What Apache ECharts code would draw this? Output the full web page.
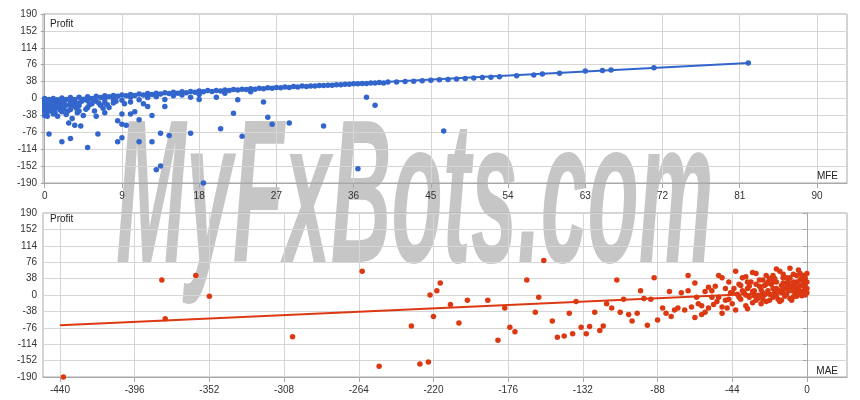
<!DOCTYPE html>
<html><head><meta charset="utf-8">
<script src="https://cdn.jsdelivr.net/npm/echarts@6/dist/echarts.min.js"></script>
<style>html,body{margin:0;padding:0;background:#fff}#c{width:860px;height:400px}</style>
</head><body><div id="c"></div>
<script>
const yTicks = [-190,-152,-114,-76,-38,0,38,76,114,152,190];
const mfeTicks = [0,9,18,27,36,45,54,63,72,81,90];
const maeTicks = [-440,-396,-352,-308,-264,-220,-176,-132,-88,-44,0];
// MFE vs Profit (top)
const mfePoints = [
[0,0],[0,-5],[0,-10],[0,-15],[0,-20],[0,-25],[0,-30],[0,-38],[0.3,-40],[0.5,-80],[0.5,-3],[0.8,-12],[1,0],[1,-8],[1,-18],[1,-28],[1,-35],[1.3,-22],[1.5,-3],[1.5,-40],[2,1],[2,-10],[2,-20],[2,-30],[2,-97],[2.3,-5],[2.5,-15],[2.5,-36],[2.8,-55],[3,2],[3,-8],[3,-25],[3,-90],[3.2,-45],[3.5,-2],[3.5,-18],[3.5,-60],[3.8,-32],[4,3],[4,-10],[4,-28],[4.2,-62],[4.5,-38],[5,4],[5,-5],[5,-20],[5,-110],[5.5,-12],[5.8,-28],[6,5],[6,-40],[6.2,-80],[6.5,-15],[7,6],[7,-3],[7,-32],[7.5,-20],[8,7],[8,-10],[8.5,-50],[8.5,-97],[9,8],[9,-88],[9,-35],[9,-58],[9.5,-60],[10,9],[10,-8],[10,-35],[10.5,-30],[11,10],[11,-3],[11,-97],[11,-48],[11.5,-12],[12,11],[12,-18],[12.5,-97],[12.5,-38],[13,12],[13,-160],[13.5,-152],[13.5,-78],[14,13],[14,-2],[14,-18],[14.5,-83],[15,14],[16,15],[17,16],[17,3],[17,-78],[18,17],[18,-2],[18.5,-190],[19,18],[20,18],[20,3],[20.5,-68],[21,19],[22,20],[22,-33],[22.5,-3],[23,21],[23,-85],[24,22],[25,23],[25.5,-8],[26,24],[26,-42],[26.5,-58],[27,25],[28,26],[28.5,-55],[29,27],[30,28],[31,28],[32,29],[32.5,-62],[33,30],[34,31],[35,32],[36,33],[36.5,-158],[37,34],[37.5,3],[38,35],[38.5,-15],[39,36],[40,37],[41,37],[42,38],[43,39],[44,40],[45,41],[46,42],[46.5,-73],[47,43],[48,44],[49,45],[50,46],[51,47],[52,48],[53,49],[55,51],[57,53],[58,55],[60,57],[63,62],[65,63],[66,64],[71,69],[82,80],
[0.5,-2],[1.5,-12],[2.5,-2],[3.5,-8],[4.5,-3],[5.5,0],[6.5,2],[7.5,4],[8.5,5],[9.5,6],[10.5,7],[11.5,8],[12.5,9],[13.5,10],[14.5,11],[15.5,12],[16.5,13],[17.5,14],[18.5,15],[19.5,16],[20.5,17],[21.5,18],[22.5,19],[23.5,20],[24.5,21],[25.5,22],[26.5,23],[27.5,24],[28.5,25],[29.5,26],[30.5,27],[31.5,28],[32.5,29],[33.5,30],[34.5,31],[35.5,32],[36.5,33],[37.5,34],[38.5,35],[39.5,35],[6,-6],[7,-10],[8,-2],[4,-16],[3,-14],[2,-6],[1,-4],[0.2,-34],[0.6,-28],[1.8,-26],[4.8,-24],[6.8,-22],[9,-4],[12,2],[15,6],[18,9],[21,12],[24,15],[10,3],[13,4],[16,8],
[0.3,-16],[0.7,-22],[1.2,-32],[1.7,-18],[2.2,-24],[2.7,-28],[3.3,-12],[3.7,-22],[4.3,-6],[5.2,-14],[5.7,-4],[6.3,-10],[7.3,-14],[8.3,-6],[9.3,-12],[0.2,-8],[0.4,-26],[1.1,-14]
];
// MAE vs Profit (bottom)
const maePoints = [
[-438,-190],[-380,35],[-378,-55],[-360,45],[-352,-3],[-303,-97],[-262,55],[-252,-165],[-233,-72],[-228,-160],[-223,-155],[-222,0],[-220,-50],[-218,10],[-216,28],[-210,-22],[-205,-65],[-200,-12],[-188,-12],[-182,-105],[-178,-30],[-175,-75],[-172,-85],[-165,35],[-160,-40],[-158,-5],[-155,80],[-150,-60],[-147,-98],[-143,-95],[-140,-42],[-138,-90],[-136,-15],[-133,-75],[-130,-90],[-128,-73],[-125,-40],[-122,-82],[-120,-72],[-118,-20],[-115,-30],[-112,35],[-110,-40],[-108,-10],[-105,-45],[-103,-60],[-100,-42],[-98,10],[-96,-8],[-94,-70],[-92,-10],[-90,40],[-88,-58],[-85,-30],[-83,-42],[-81,8],[-80,-50],[-78,-35],[-76,-30],[-74,5],[-72,-35],[-70,10],[-68,-28],[-66,28],[-64,-20],[-62,-45],[-60,8],[-58,-30],[-56,-5],[-54,20],[-53,-15],[-52,45],[-50,-28],[-48,-12],[-46,30],[-45,5],[-44,-20],[-43,15],[-42,-35],[-40,25],[-39,-10],[-38,40],[-37,5],[-36,-25],[-35,15],[-34,-5],[-33,30],[-32,-18],[-31,10],[-30,50],[-29,-8],[-28,20],[-27,-20],[-26,35],[-25,0],[-24,45],[-23,10],[-22,-12],[-21,25],[-20,-5],[-19,38],[-18,15],[-17,-10],[-16,55],[-15,5],[-14,28],[-13,-3],[-12,40],[-11,12],[-10,62],[-10,-8],[-9,20],[-8,48],[-7,5],[-6,30],[-6,-3],[-5,58],[-5,15],[-4,35],[-3,8],[-3,-2],[-2,45],[-2,22],[-1,0],[-1,12],[0,5],[0,30],[0,15],[0,50],
[-60,-40],[-55,-22],[-50,40],[-47,-30],[-41,2],[-35,-32],[-28,-2],[-25,22],[-20,30],[-15,-12],[-12,18],[-8,-4],[-4,22],[-1,38],[-32,52],[-18,60],[-9,-12],[-42,55],[-65,-5],[-70,45],[-58,18],[-36,42],[-24,-15],[-14,48],
[-40,-5],[-38,10],[-36,0],[-34,20],[-32,8],[-30,-12],[-30,25],[-28,35],[-26,5],[-26,-10],[-24,25],[-22,38],[-22,2],[-20,15],[-20,45],[-18,-2],[-18,30],[-16,10],[-16,-15],[-14,40],[-14,12],[-12,2],[-12,28],[-10,20],[-10,40],[-8,10],[-8,30],[-6,15],[-6,45],[-4,5],[-4,50],[-2,10],[-2,32],[-1,25],[-3,40],[-7,22],[-11,30],[-15,22],[-19,5],[-23,30],[-27,12],[-31,-2],[-35,30],[-39,22],[-44,5],[-48,15],[-52,-5],[-56,10],[-46,-10],[-50,-42],[-62,-25],[-66,-52]
];
const mfeTrend = [[0,-3],[82,80]];
const maeTrend = [[-440,-70],[0,8]];

const gridCol = '#d6d6d6', borderCol = '#a8a8a8', txt = '#333';
function xAx(idx, min, max, ticks){
  return {gridIndex:idx,type:'value',min:min,max:max,
    axisLine:{show:true,onZero:false,lineStyle:{color:borderCol}},
    axisTick:{show:true,customValues:ticks,length:5,lineStyle:{color:borderCol}},
    axisLabel:{customValues:ticks,color:txt,fontSize:10,fontFamily:'Arial'},
    splitLine:{show:true,lineStyle:{color:gridCol,width:1}}};
}
function yAx(idx){
  return {gridIndex:idx,type:'value',min:-190,max:190,interval:38,
    axisLine:{show:true,lineStyle:{color:borderCol}},
    axisTick:{show:true,length:4,lineStyle:{color:borderCol}},
    axisLabel:{color:txt,fontSize:10,fontFamily:'Arial',margin:6},
    splitLine:{show:true,lineStyle:{color:gridCol}}};
}
const chart = echarts.init(document.getElementById('c'));
chart.setOption({
  animation:false,
  grid:[{left:43,right:13,top:14,height:169,show:true,borderColor:borderCol,borderWidth:1},
        {left:43,right:13,top:213,height:164,show:true,borderColor:borderCol,borderWidth:1}],
  xAxis:[xAx(0,-0.2,93.5,mfeTicks), xAx(1,-450,23.6,maeTicks)],
  yAxis:[yAx(0),yAx(1)],
  graphic:[
    {type:'text',x:116,y:104,scaleX:0.42,scaleY:1.02,z:-1,silent:true,style:{text:'MyFxBots.com',font:'italic bold 200px "Liberation Sans", Arial',fill:'#c6c6c6'}},
    {type:'text',left:50,top:19,z:10,style:{text:'Profit',font:'10px Arial',fill:'#222'}},
    {type:'text',left:50,top:214,z:10,style:{text:'Profit',font:'10px Arial',fill:'#222'}},
    {type:'text',right:22,top:171,z:10,style:{text:'MFE',font:'10px Arial',fill:'#222'}},
    {type:'text',right:22,top:366,z:10,style:{text:'MAE',font:'10px Arial',fill:'#222'}}
  ],
  series:[
    {type:'scatter',xAxisIndex:0,yAxisIndex:0,data:mfePoints,symbolSize:5.5,itemStyle:{color:'#3366cc',opacity:1},z:5},
    {type:'line',xAxisIndex:0,yAxisIndex:0,data:mfeTrend,symbol:'none',lineStyle:{color:'#3366cc',width:2},z:6},
    {type:'scatter',xAxisIndex:1,yAxisIndex:1,data:maePoints,symbolSize:5.5,itemStyle:{color:'#dc3912',opacity:1},z:5},
    {type:'line',xAxisIndex:1,yAxisIndex:1,data:maeTrend,symbol:'none',lineStyle:{color:'#dc3912',width:2},z:6}
  ]
});
</script></body></html>
